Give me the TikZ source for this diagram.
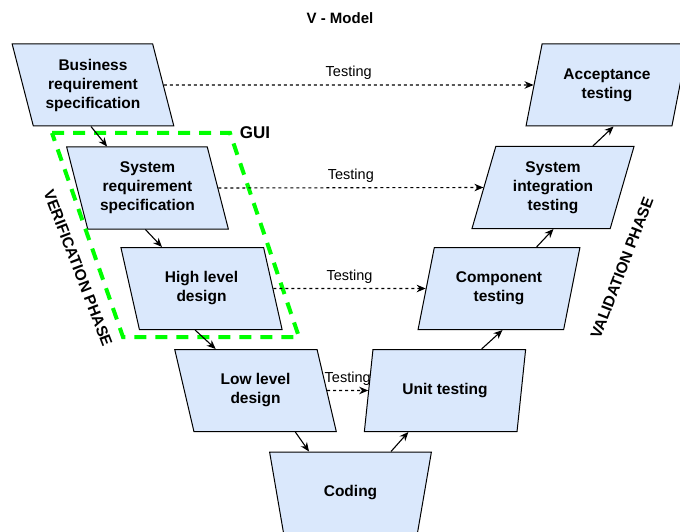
\documentclass[tikz,border=0pt]{standalone}
\usepackage{fontspec}
\setmainfont{Liberation Sans}
\usepackage{xcolor}
\usepackage{tikz}
\usetikzlibrary{arrows.meta, calc, shapes.geometric}
\definecolor{boxblue}{HTML}{DAE8FC}
\definecolor{guigreen}{HTML}{00FF00}

\begin{document}
\begin{tikzpicture}[
    x=1pt, y=-1pt,
    vbox/.style={trapezium, trapezium stretches=true, draw=black, fill=boxblue,
                 line width=1pt, minimum width=162pt, minimum height=82pt,
                 inner sep=1pt, align=center,
                 font=\fontsize{15.5}{19}\selectfont\bfseries},
    vleft/.style={vbox, trapezium left angle=107.5, trapezium right angle=72.5},
    vright/.style={vbox, trapezium left angle=72.5, trapezium right angle=107.5},
    vcode/.style={vbox, trapezium left angle=70.5, trapezium right angle=70.5,
                  shape border rotate=180},
    arr/.style={-{Stealth[length=9pt,width=7.5pt]}, line width=1.1pt},
    tarr/.style={arr, dash pattern=on 3pt off 3pt},
    tlbl/.style={font=\fontsize{14.5}{17}\selectfont, yshift=12pt},
    phase/.style={font=\fontsize{15.5}{18}\selectfont\bfseries},
    guibox/.style={draw=guigreen, line width=4pt, dash pattern=on 12pt off 9pt}
]
\useasboundingbox (0,0) rectangle (680,532);
\node[font=\fontsize{15}{18}\selectfont\bfseries] (title) at (340,18) {V - Model};
% verification side
\node[vleft]  (bus) at (93,85)      {Business\\requirement\\specification};
\node[vleft]  (sys) at (147.5,188)  {System\\requirement\\specification};
\node[vleft]  (hld) at (201.5,288.5){High level\\design};
\node[vleft]  (lld) at (255.5,390.5){Low level\\design};
\node[vcode]  (cod) at (350.5,493)  {Coding};
% validation side
\node[vright] (unit) at (445,390.5) {Unit testing};
\node[vright] (comp) at (499,288.5) {Component\\testing};
\node[vright] (sint) at (553,187.5) {System\\integration\\testing};
\node[vright] (acc)  at (607,85)    {Acceptance\\testing};
% GUI frame
\draw[guibox] (52,133) -- (230,133) -- (299,337) -- (123,337) -- cycle;
\node[font=\fontsize{17}{20}\selectfont\bfseries] (gui) at (255,133) {GUI};
\node[phase, rotate=-69] (verif) at (78,268) {VERIFICATION PHASE};
\node[phase, rotate=69]  (valid) at (622,268) {VALIDATION PHASE};
% down the V
\draw[arr] ($(bus.bottom left corner)!0.41!(bus.bottom right corner)$) -- ($(sys.top left corner)!0.29!(sys.top right corner)$);
\draw[arr] ($(sys.bottom left corner)!0.41!(sys.bottom right corner)$) -- ($(hld.top left corner)!0.29!(hld.top right corner)$);
\draw[arr] ($(hld.bottom left corner)!0.39!(hld.bottom right corner)$) -- ($(lld.top left corner)!0.29!(lld.top right corner)$);
\draw[arr] ($(lld.bottom left corner)!0.71!(lld.bottom right corner)$) -- ($(cod.north)+(-41.5,0)$);
% up the V
\draw[arr] ($(cod.north)+(40.5,0)$) -- ($(unit.bottom left corner)!0.29!(unit.bottom right corner)$);
\draw[arr] ($(unit.top left corner)!0.71!(unit.top right corner)$) -- ($(comp.bottom left corner)!0.58!(comp.bottom right corner)$);
\draw[arr] ($(comp.top left corner)!0.70!(comp.top right corner)$) -- ($(sint.bottom left corner)!0.59!(sint.bottom right corner)$);
\draw[arr] ($(sint.top left corner)!0.70!(sint.top right corner)$) -- ($(acc.bottom left corner)!0.60!(acc.bottom right corner)$);
% testing links
\draw[tarr] (bus.east) -- (acc.west)  node[midway, tlbl] {Testing};
\draw[tarr] (sys.east) -- (sint.west) node[midway, tlbl] {Testing};
\draw[tarr] (hld.east) -- (comp.west) node[midway, tlbl] {Testing};
\draw[tarr] (lld.east) -- (unit.west) node[midway, tlbl] {Testing};
\end{tikzpicture}
\end{document}
